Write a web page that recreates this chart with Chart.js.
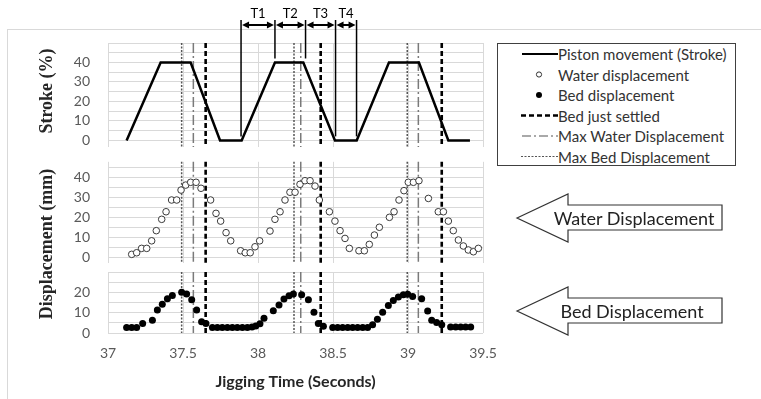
<!DOCTYPE html>
<html><head><meta charset="utf-8">
<script src="https://cdn.jsdelivr.net/npm/chart.js@4.4.1/dist/chart.umd.min.js"></script>
<style>
html,body{margin:0;padding:0;background:#fff;}
#wrap{position:relative;width:761px;height:399px;overflow:hidden;background:#fff;font-family:Lato,'Open Sans',sans-serif;}
.cv{position:absolute;left:0;width:761px;}
#frame{position:absolute;left:7px;top:29px;width:820px;height:420px;border-left:1px solid #d9d9d9;border-top:1px solid #d9d9d9;}
.ytitle{position:absolute;font-family:'Liberation Serif',serif;font-weight:bold;font-size:18px;color:#262626;white-space:nowrap;transform:translate(-50%,-50%) rotate(-90deg);}
#legend{position:absolute;left:497px;top:43px;width:239px;height:123px;border:1.5px solid #404040;box-sizing:border-box;background:#fff;}
.lt{position:absolute;left:60px;font-size:15px;color:#333;white-space:nowrap;transform:translateY(-50%);}
.callout{position:absolute;left:0;top:0;}
.ctext{position:absolute;font-size:18px;color:#222;white-space:nowrap;transform:translate(-50%,-50%);}
</style></head>
<body>
<div id="wrap">
  <div id="frame"></div>
  <canvas id="c1" class="cv" style="top:0;height:156px" width="761" height="156"></canvas>
  <canvas id="c2" class="cv" style="top:150px;height:124px" width="761" height="124"></canvas>
  <canvas id="c3" class="cv" style="top:258px;height:141px" width="761" height="141"></canvas>
  <div class="ytitle" style="left:46px;top:91px">Stroke (%)</div>
  <div class="ytitle" style="left:46px;top:244px">Displacement (mm)</div>
  <div id="legend">
    <svg width="239" height="123" style="position:absolute;left:0;top:0">
      <line x1="24" y1="10" x2="60" y2="10" stroke="#000" stroke-width="2.2"/>
      <circle cx="41" cy="30.5" r="2.6" fill="#fff" stroke="#333" stroke-width="1"/>
      <circle cx="41" cy="51" r="3" fill="#000"/>
      <line x1="23" y1="71.5" x2="60" y2="71.5" stroke="#000" stroke-width="2.5" stroke-dasharray="5,3"/>
      <line x1="24" y1="92" x2="60" y2="92" stroke="#555" stroke-width="1.2" stroke-dasharray="9,3,2,3"/>
      <line x1="23" y1="112.5" x2="60" y2="112.5" stroke="#555" stroke-width="1.2" stroke-dasharray="2,1.5"/>
    </svg>
    <div class="lt" style="top:10px">Piston movement (Stroke)</div>
    <div class="lt" style="top:30.5px">Water displacement</div>
    <div class="lt" style="top:51px">Bed displacement</div>
    <div class="lt" style="top:71.5px">Bed just settled</div>
    <div class="lt" style="top:92px">Max Water Displacement</div>
    <div class="lt" style="top:112.5px">Max Bed Displacement</div>
  </div>
  <svg class="callout" width="761" height="399">
    <polygon points="517,218 568,194 568,205 722,205 722,230 568,230 568,242" fill="#fff" stroke="#333" stroke-width="1.2"/>
    <polygon points="517,311 568,287 568,298 722,298 722,323 568,323 568,335" fill="#fff" stroke="#333" stroke-width="1.2"/>
  </svg>
  <div class="ctext" style="left:634px;top:218px">Water Displacement</div>
  <div class="ctext" style="left:632px;top:311px">Bed Displacement</div>
</div>
<script>
// ---------- data ----------
const strokeTime  = [37.124, 37.351, 37.551, 37.747, 37.891, 38.113, 38.302, 38.513, 38.658, 38.873, 39.073, 39.269, 39.413];
const strokeValue = [0, 40, 40, 0, 0, 40, 40, 0, 0, 40, 40, 0, 0];

const waterTime  = [37.158,37.191,37.224,37.258,37.291,37.322,37.358,37.387,37.424,37.458,37.487,37.518,37.551,37.587,37.62,
  37.684,37.72,37.751,37.787,37.818,37.884,37.915,37.948,37.98,38.011,38.08,38.113,38.147,38.18,38.213,38.247,38.28,38.313,38.347,
  38.38,38.409,38.476,38.513,38.547,38.58,38.609,38.673,38.709,38.742,38.776,38.809,38.876,38.907,38.94,38.973,39.002,39.036,39.073,
  39.136,39.202,39.236,39.269,39.302,39.336,39.369,39.402,39.436,39.469];
const waterValue = [1.5,2.3,4.5,4.5,8.3,13.4,19.1,22.9,28.8,28.8,33.8,36.3,37.7,37.7,34.7,
  28.8,22.1,18.2,12.4,8.3,3.3,2.3,2.3,5.3,8.3,13.2,19.1,22.9,28.8,32.7,32.7,36.7,38.5,38.5,
  35.8,28.8,22.9,18.2,13.4,9.5,4.5,3.3,3.3,6.5,11.2,15.1,20.1,22.9,28.8,33.5,37.7,37.7,38.5,
  29.6,22.9,22.9,18.2,13.4,8.7,5.7,3.7,2.8,4.5];

const bedTime  = [37.124,37.158,37.191,37.231,37.296,37.329,37.362,37.396,37.429,37.491,37.524,37.558,37.591,37.624,37.653,
  37.696,37.729,37.762,37.796,37.829,37.862,37.896,37.929,37.96,37.985,38.013,38.04,38.102,38.14,38.173,38.207,38.236,38.291,
  38.336,38.373,38.402,38.436,38.498,38.531,38.564,38.598,38.631,38.664,38.698,38.731,38.764,38.796,38.831,38.869,38.902,38.936,
  38.969,38.998,39.031,39.091,39.131,39.158,39.191,39.225,39.284,39.318,39.351,39.384,39.418];
const bedValue = [2.7,2.7,2.7,4.7,6.3,11.3,14.2,16.8,18.5,20,19.2,16.3,11.3,5.5,4.7,
  2.7,2.7,2.7,2.7,2.7,2.7,2.7,2.7,3,3.5,4.5,7.2,11,13.8,16.7,18.3,19.2,18.8,
  16.3,10.2,4.7,3.3,2.7,2.7,2.7,2.7,2.7,2.7,2.7,2.7,4,6.8,10.2,13.5,16,17.7,
  18.8,19,18,16.8,10.8,6.3,5.2,4,3,3,3,3,3];

const maxBedTime     = [37.491, 38.24, 38.995];
const maxWaterTime   = [37.569, 38.285, 39.069];
const bedSettledTime = [37.651, 38.418, 39.225];

const periodMarks  = [37.887, 38.113, 38.317, 38.517, 38.657];
const periodLevel  = [0, 40, 40, 0, 0];
const periodLabels = ['T1', 'T2', 'T3', 'T4'];

const xTicks       = [37, 37.5, 38, 38.5, 39, 39.5];
const strokeGrid   = [0,5,10,15,20,25,30,35,40,45,50];
const strokeLabels = [0,10,20,30,40];
const waterGrid    = [0,5,10,15,20,25,30,35,40,45];
const waterLabels  = [0,10,20,30,40];
const bedGrid      = [0,5,10,15,20,25,30];
const bedLabels    = [0,10,20];

// ---------- helpers ----------
const pts = (xs, ys) => xs.map((x, i) => ({x, y: ys[i]}));
const GRID = '#d9d9d9';
const TICKFONT = {family: 'Lato', size: 14};

const vlines = {
  id: 'vlines',
  beforeDatasetsDraw(chart) {
    const {ctx, chartArea: a, scales: {x}} = chart;
    const draw = (arr, c, w, d) => arr.forEach(t => {
      const px = x.getPixelForValue(t);
      ctx.save(); ctx.strokeStyle = c; ctx.lineWidth = w; ctx.setLineDash(d);
      ctx.beginPath(); ctx.moveTo(px, a.top); ctx.lineTo(px, a.bottom); ctx.stroke(); ctx.restore();
    });
    draw(maxBedTime, '#555', 1.5, [2, 1.5]);
    draw(maxWaterTime, '#7a7a7a', 1.5, [10, 3, 2, 3]);
    draw(bedSettledTime, '#000', 2.6, [5, 3]);
  }
};

const periods = {
  id: 'periods',
  afterDraw(chart) {
    const {ctx, scales: {x, y}} = chart;
    const xs = periodMarks.map(t => x.getPixelForValue(t));
    ctx.save();
    ctx.strokeStyle = '#000'; ctx.fillStyle = '#000'; ctx.lineWidth = 1.5;
    xs.forEach((px, i) => {
      ctx.beginPath(); ctx.moveTo(px, 20); ctx.lineTo(px, y.getPixelForValue(periodLevel[i]) - 4); ctx.stroke();
    });
    ctx.lineWidth = 2;
    for (let i = 0; i < periodLabels.length; i++) {
      const a = xs[i] + 1, b = xs[i + 1] - 1, yy = 25;
      ctx.beginPath(); ctx.moveTo(a + 5, yy); ctx.lineTo(b - 5, yy); ctx.stroke();
      ctx.beginPath(); ctx.moveTo(a, yy); ctx.lineTo(a + 7, yy - 3.5); ctx.lineTo(a + 7, yy + 3.5); ctx.closePath(); ctx.fill();
      ctx.beginPath(); ctx.moveTo(b, yy); ctx.lineTo(b - 7, yy - 3.5); ctx.lineTo(b - 7, yy + 3.5); ctx.closePath(); ctx.fill();
      ctx.font = '13px Lato'; ctx.textAlign = 'center'; ctx.textBaseline = 'middle';
      ctx.fillText(periodLabels[i], (xs[i] + xs[i + 1]) / 2, 14);
    }
    ctx.restore();
  }
};

function makeChart(id, datasets, opt) {
  return new Chart(document.getElementById(id), {
    type: 'scatter',
    data: {datasets},
    options: {
      responsive: false, animation: false, maintainAspectRatio: false,
      layout: {autoPadding: false, padding: {top: opt.padTop, right: 278, left: 0, bottom: 0}},
      plugins: {legend: {display: false}, tooltip: {enabled: false}},
      scales: {
        x: {
          type: 'linear', min: 37, max: 39.5,
          afterBuildTicks: s => { s.ticks = xTicks.map(v => ({value: v})); },
          afterFit: s => { s.height = opt.xHeight; },
          grid: {color: GRID, drawTicks: false},
          border: {display: false},
          ticks: {display: !!opt.xLabels, padding: 12, color: '#595959', font: TICKFONT, maxRotation: 0, autoSkip: false,
                  callback: v => String(v)},
          title: {display: !!opt.xLabels, text: 'Jigging Time (Seconds)', color: '#262626',
                  font: {family: 'Lato', size: 16, weight: 'bold'}, padding: {top: 0, bottom: 8}}
        },
        y: {
          min: opt.min, max: opt.max,
          afterBuildTicks: s => { s.ticks = opt.grid.map(v => ({value: v})); },
          afterFit: s => { s.width = 108; },
          grid: {color: GRID, drawTicks: true, tickLength: 18, tickColor: 'rgba(0,0,0,0)'},
          border: {display: false},
          ticks: {padding: 0, color: '#595959', font: TICKFONT, autoSkip: false,
                  callback: v => opt.labels.includes(v) ? String(v) : ''}
        }
      }
    },
    plugins: opt.plugins
  });
}

makeChart('c1', [{
  label: 'Piston movement (Stroke)', data: pts(strokeTime, strokeValue), showLine: true,
  borderColor: '#000', borderWidth: 2.5, pointRadius: 0, tension: 0
}], {padTop: 43, xHeight: 9, min: -3.4, max: 50, grid: strokeGrid, labels: strokeLabels, plugins: [vlines, periods]});

makeChart('c2', [{
  label: 'Water displacement', data: pts(waterTime, waterValue), showLine: false,
  pointStyle: 'circle', pointRadius: 3.3, pointBorderWidth: 1, pointBorderColor: '#3a3a3a', pointBackgroundColor: '#fff'
}], {padTop: 11.8, xHeight: 10.7, min: -3, max: 48, grid: waterGrid, labels: waterLabels, plugins: [vlines]});

makeChart('c3', [{
  label: 'Bed displacement', data: pts(bedTime, bedValue), showLine: false,
  pointStyle: 'circle', pointRadius: 3.5, pointBorderWidth: 0, pointBackgroundColor: '#000'
}], {padTop: 14, xHeight: 66, min: 0, max: 30, grid: bedGrid, labels: bedLabels, xLabels: true, plugins: [vlines]});
</script>
</body></html>
